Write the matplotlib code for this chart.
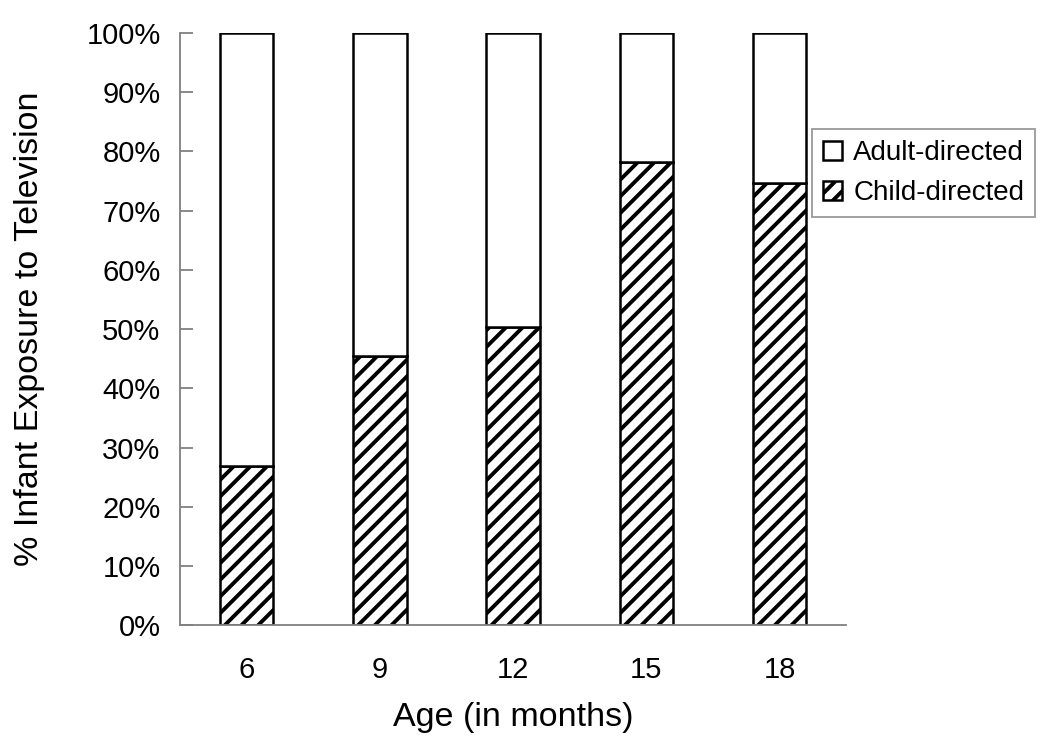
import numpy as np
import matplotlib.pyplot as plt

ages = ["6", "9", "12", "15", "18"]
child_directed = [26.8, 45.5, 50.3, 78.2, 74.6]
adult_directed = [100 - v for v in child_directed]

plt.rcParams['font.family'] = ['Liberation Sans', 'DejaVu Sans']
plt.rcParams['hatch.linewidth'] = 2.8

fig = plt.figure(figsize=(10.5, 7.47), dpi=100)
ax = fig.add_axes([0.1714, 0.163, 0.6346, 0.793])

x = np.arange(len(ages))
b_child = ax.bar(x, child_directed, width=0.4, color="white", edgecolor="black",
                 hatch="//", linewidth=1.8, label="Child-directed")
b_adult = ax.bar(x, adult_directed, width=0.4, bottom=child_directed, color="white",
                 edgecolor="black", linewidth=1.8, label="Adult-directed")

ax.set_xlim(-0.5, 4.5)
ax.set_ylim(0, 100)
ax.set_yticks(np.arange(0, 101, 10))
ax.set_yticklabels([f"{v}%" for v in range(0, 101, 10)])
ax.set_xticks(x)
ax.set_xticklabels(ages)

for side in ["top", "right"]:
    ax.spines[side].set_visible(False)
for side in ["left", "bottom"]:
    ax.spines[side].set_color("#808080")
    ax.spines[side].set_linewidth(1.3)

ax.tick_params(axis="y", direction="in", length=9, color="#808080", width=1.3,
               labelsize=21, pad=14)
ax.tick_params(axis="x", length=0, labelsize=21, pad=22)

ax.set_xlabel("Age (in months)", fontsize=24.5, labelpad=13)
ax.set_ylabel("% Infant Exposure to Television", fontsize=24.5, labelpad=30)

leg = fig.legend(handles=[b_adult, b_child], labels=["Adult-directed", "Child-directed"],
                 loc="upper left", bbox_to_anchor=(0.773, 0.827), fontsize=20,
                 frameon=True, fancybox=False, edgecolor="#808080",
                 handlelength=0.7, handleheight=0.7, handletextpad=0.4,
                 borderpad=0.4, labelspacing=0.5, borderaxespad=0)
leg.get_frame().set_linewidth(1.3)

fig.savefig("out.png", dpi=100)
